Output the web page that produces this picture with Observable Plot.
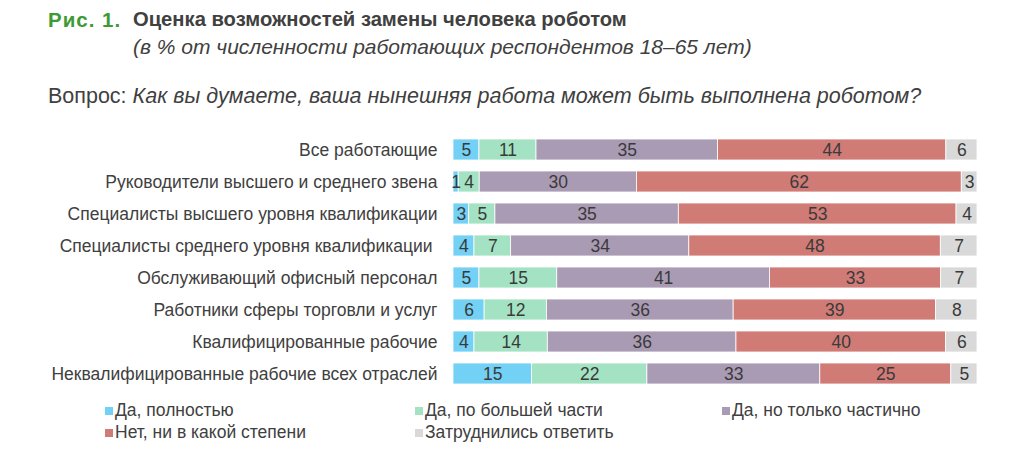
<!DOCTYPE html>
<html><head><meta charset="utf-8">
<script src="https://cdn.jsdelivr.net/npm/d3@7"></script>
<script src="https://cdn.jsdelivr.net/npm/@observablehq/plot@0.6"></script>
<style>
html,body{margin:0;padding:0;background:#fff;}
body{width:1015px;height:470px;position:relative;overflow:hidden;font-family:"Liberation Sans",Arial,sans-serif;color:#404040;}
.abs{position:absolute;white-space:nowrap;line-height:1.15;}
#fig{left:48px;top:8px;font-size:20.5px;font-weight:bold;color:#3d9a35;letter-spacing:1px;}
#title{left:133px;top:8px;font-size:20.2px;font-weight:bold;color:#404040;}
#sub{left:133px;top:35px;font-size:21px;font-style:italic;color:#404040;}
#q{left:48px;top:84px;font-size:21.5px;color:#404040;}
#chart{position:absolute;left:0;top:123px;}
.leg{position:absolute;font-size:17.5px;color:#404040;white-space:nowrap;line-height:20px;}
.leg span.sw{display:inline-block;width:8px;height:8px;margin-right:2px;vertical-align:1px;}
</style></head>
<body>
<div class="abs" id="fig">Рис. 1.</div>
<div class="abs" id="title">Оценка возможностей замены человека роботом</div>
<div class="abs" id="sub">(в % от численности работающих респондентов 18–65 лет)</div>
<div class="abs" id="q">Вопрос: <i>Как вы думаете, ваша нынешняя работа может быть выполнена роботом?</i></div>
<div id="chart"></div>
<div id="legend"></div>
<script>
const groups = [
  "Все работающие",
  "Руководители высшего и среднего звена",
  "Специалисты высшего уровня квалификации",
  "Специалисты среднего уровня квалификации\u00a0",
  "Обслуживающий офисный персонал",
  "Работники сферы торговли и услуг",
  "Квалифицированные рабочие",
  "Неквалифицированные рабочие всех отраслей"
];
const answers = [
  "Да, полностью",
  "Да, по большей части",
  "Да, но только частично",
  "Нет, ни в какой степени",
  "Затруднились ответить"
];
const colors = ["#72d1f5", "#a3e3c3", "#aa9bb5", "#d17b77", "#d9d9d9"];
const yesFull = [5, 1, 3, 4, 5, 6, 4, 15];
const yesMost = [11, 4, 5, 7, 15, 12, 14, 22];
const yesPart = [35, 30, 35, 34, 41, 36, 36, 33];
const noAt = [44, 62, 53, 48, 33, 39, 40, 25];
const hard = [6, 3, 4, 7, 7, 8, 6, 5];

const series = [yesFull, yesMost, yesPart, noAt, hard];
const data = [];
groups.forEach((g, i) => {
  answers.forEach((a, j) => {
    data.push({group: g, answer: a, value: series[j][i]});
  });
});

const chart = Plot.plot({
  width: 1015,
  height: 272,
  marginLeft: 453,
  marginRight: 38,
  marginTop: 8,
  marginBottom: 3.4,
  style: {fontFamily: "'Liberation Sans', Arial, sans-serif", fontSize: "17.5px", color: "#404040", background: "white"},
  x: {axis: null, domain: [0, 1]},
  y: {domain: groups, paddingInner: 0.35, paddingOuter: 0.175, align: 0.5, label: null, tickSize: 0, tickPadding: 16},
  color: {domain: answers, range: colors},
  marks: [
    Plot.barX(data, Plot.stackX({
      x: "value", y: "group", z: "answer", fill: "answer",
      order: answers, offset: "normalize",
      stroke: "white", strokeWidth: 0.8
    })),
    Plot.text(data, Plot.stackX({
      x: "value", y: "group", z: "answer", text: d => String(d.value),
      order: answers, offset: "normalize",
      fill: "#3a3a3a", fontSize: 17.5
    })),
    Plot.axisY({tickSize: 0, tickPadding: 16, fontSize: 17.5, fill: "#404040"})
  ]
});
document.getElementById("chart").appendChild(chart);

const legendPos = [[105, 400], [415, 400], [722, 400], [105, 422], [415, 422]];
const leg = document.getElementById("legend");
answers.forEach((a, j) => {
  const d = document.createElement("div");
  d.className = "leg";
  d.style.left = legendPos[j][0] + "px";
  d.style.top = legendPos[j][1] + "px";
  d.innerHTML = `<span class="sw" style="background:${colors[j]}"></span>${a}`;
  leg.appendChild(d);
});
</script>
</body></html>
